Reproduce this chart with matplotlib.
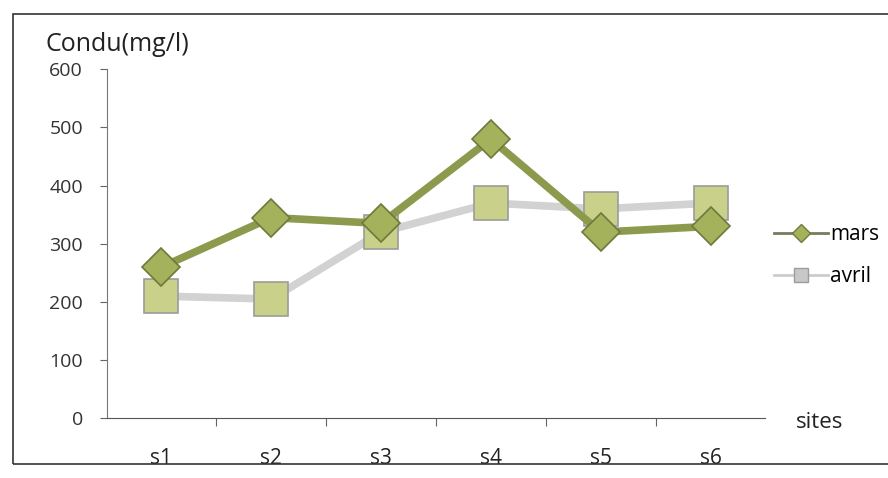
import matplotlib
matplotlib.use('Agg')
from matplotlib import pyplot as plt
from matplotlib.lines import Line2D

sites = ['s1', 's2', 's3', 's4', 's5', 's6']
mars = [260, 345, 335, 480, 320, 330]
avril = [210, 205, 320, 370, 360, 370]
yticks = [0, 100, 200, 300, 400, 500, 600]

plt.rcParams['font.family'] = ['Open Sans', 'DejaVu Sans']

fig = plt.figure(figsize=(8.88, 4.78), dpi=100)
ax = fig.add_axes([0.12, 0.125, 0.742, 0.73])

x = list(range(len(sites)))
ax.plot(x, avril, '-', color='#d2d2d2', lw=5.5, marker='s', ms=24,
        mfc='#c9d08a', mec='#9c9c9c', mew=1.2, label='avril', zorder=2)
ax.plot(x, mars, '-', color='#8c9a4e', lw=5.5, marker='D', ms=19,
        mfc='#a4b25c', mec='#6e7a3a', mew=1.2, label='mars', zorder=3)

ax.set_xlim(-0.5, len(sites) - 0.5)
ax.set_ylim(0, 600)
ax.set_yticks(yticks)
ax.set_yticklabels([str(v) for v in yticks], fontsize=14, color='#333333')
ax.tick_params(axis='y', length=5, color='#666666', pad=12)

# category labels centred, tick marks between categories (Excel style)
ax.set_xticks([i + 0.5 for i in x[:-1]])
ax.set_xticklabels([])
ax.tick_params(axis='x', length=6, color='#666666', direction='out')
for i, s in enumerate(sites):
    ax.text(i, -0.085, s, transform=ax.get_xaxis_transform(), ha='center',
            va='top', fontsize=15, color='#222222')

for side in ['top', 'right']:
    ax.spines[side].set_visible(False)
ax.spines['left'].set_color('#777777')
ax.spines['bottom'].set_color('#555555')

fig.text(0.132, 0.88, 'Condu(mg/l)', ha='center', va='bottom', fontsize=18, color='#222222')
fig.text(0.923, 0.095, 'sites', ha='center', va='bottom', fontsize=16, color='#222222')

# legend to the right of the plot
handles = [Line2D([0], [0], color='#7a7a60', lw=2, marker='D', ms=9,
                  mfc='#a4b25c', mec='#6e7a3a'),
           Line2D([0], [0], color='#cccccc', lw=2, marker='s', ms=10,
                  mfc='#c8c8c8', mec='#9c9c9c')]
fig.legend(handles, ['mars', 'avril'], loc='center left', bbox_to_anchor=(0.85, 0.465),
           frameon=False, fontsize=15, handlelength=2.6, handletextpad=0.1,
           labelspacing=1.0)

# outer chart frame
frame = plt.Rectangle((0.015, 0.03), 1.2, 0.94, transform=fig.transFigure,
                      fill=False, edgecolor='#333333', lw=1.2)
fig.patches.append(frame)

fig.savefig('out.png', dpi=100)
